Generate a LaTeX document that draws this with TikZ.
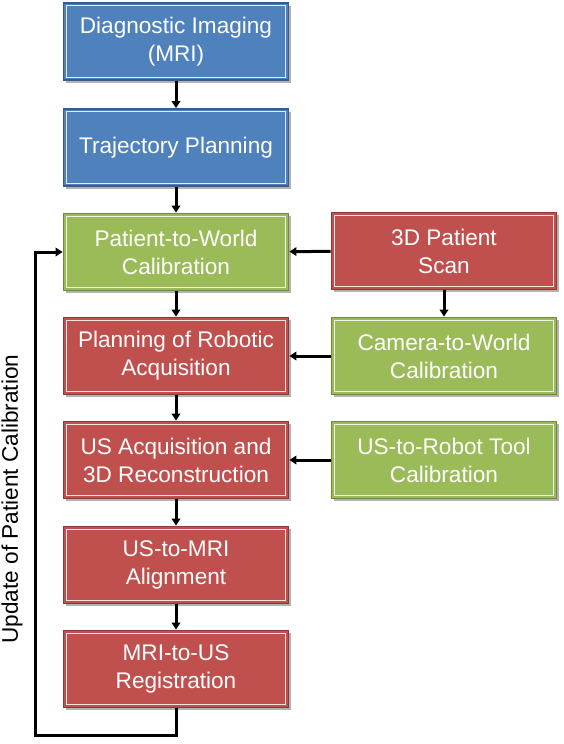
\documentclass[tikz,border=0pt]{standalone}
\usepackage{fontspec}
\setmainfont{Liberation Sans}
\usetikzlibrary{arrows.meta,shadows,calc}
\definecolor{bluefill}{HTML}{4F81BD}
\definecolor{blueedge}{HTML}{385D8A}
\definecolor{greenfill}{HTML}{9BBB59}
\definecolor{greenedge}{HTML}{71893F}
\definecolor{redfill}{HTML}{C0504D}
\definecolor{rededge}{HTML}{8C3836}
\tikzset{
  x=1pt,y=1pt,
  box/.style={rectangle, minimum width=225pt, minimum height=77pt, line width=1.8pt,
    text=white, align=center, font=\fontsize{22.6}{28}\selectfont,
    drop shadow={shadow xshift=2.5pt,shadow yshift=-2.5pt,opacity=0.3,fill=black}},
  bluebox/.style={box, fill=bluefill, draw=blueedge},
  greenbox/.style={box, fill=greenfill, draw=greenedge},
  redbox/.style={box, fill=redfill, draw=rededge},
  innerline/.style={draw=white, line width=0.9pt, opacity=0.85},
  conn/.style={line width=3pt, -{Triangle[width=8.5pt,length=7pt]}}
}
\begin{document}
\begin{tikzpicture}
\useasboundingbox (0,0) rectangle (564,-744);
\node[bluebox] (a) at (176,-41.5) {Diagnostic Imaging\\(MRI)};
\node[bluebox] (b) at (176,-147.5) {Trajectory Planning};
\node[greenbox] (c) at (176,-252) {Patient-to-World\\Calibration};
\node[redbox] (d) at (176,-356) {Planning of Robotic\\Acquisition};
\node[redbox] (e) at (176,-460) {US Acquisition and\\3D Reconstruction};
\node[redbox] (f) at (176,-565) {US-to-MRI\\Alignment};
\node[redbox] (g) at (176,-669) {MRI-to-US\\Registration};
\node[redbox] (p) at (444,-251) {3D Patient\\Scan};
\node[greenbox] (q) at (444,-356) {Camera-to-World\\Calibration};
\node[greenbox] (r) at (444,-460) {US-to-Robot Tool\\Calibration};
\foreach \n in {a,b,c,d,e,f,g,p,q,r}{
  \draw[innerline] ($(\n.north west)+(3.5,-3.5)$) rectangle ($(\n.south east)+(-3.5,3.5)$);
}
\coordinate (l1) at (176,-735);
\coordinate (l2) at (35,-735);
\coordinate (l3) at (35,-252);
\node[rotate=90, font=\fontsize{22.6}{28}\selectfont] (lbl) at (12,-499) {Update of Patient Calibration};
\draw[conn] (a) -- (b);
\draw[conn] (b) -- (c);
\draw[conn] (c) -- (d);
\draw[conn] (d) -- (e);
\draw[conn] (e) -- (f);
\draw[conn] (f) -- (g);
\draw[conn] (p) -- (c);
\draw[conn] (p) -- (q);
\draw[conn] (q) -- (d);
\draw[conn] (r) -- (e);
\draw[conn] (g.south) -- (l1) -- (l2) -- (l3) -- (c.west);
\end{tikzpicture}
\end{document}
